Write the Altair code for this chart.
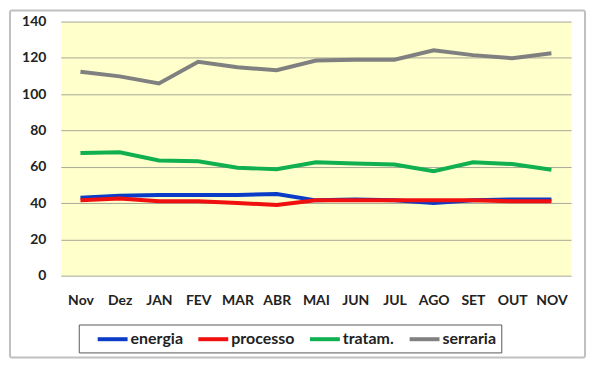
import altair as alt
import pandas as pd

months = ["Nov", "Dez", "JAN", "FEV", "MAR", "ABR", "MAI", "JUN", "JUL", "AGO", "SET", "OUT", "NOV"]
series = ["energia", "processo", "tratam.", "serraria"]
colors = ["#0A3CC8", "#F01010", "#10B050", "#808080"]

energia = [43, 44, 44.5, 44.5, 44.5, 45, 41.5, 42, 41.5, 40, 41.5, 42, 42]
processo = [41.5, 42.5, 41, 41, 40, 39, 41.5, 41.5, 41.5, 41.5, 41.5, 41, 41]
tratam = [67.6, 68, 63.5, 63, 59.5, 58.6, 62.5, 61.8, 61.3, 57.5, 62.5, 61.5, 58.4]
serraria = [112.3, 109.8, 105.9, 117.8, 114.8, 113.2, 118.5, 119, 119, 124.2, 121.5, 119.8, 122.5]

values = {"energia": energia, "processo": processo, "tratam.": tratam, "serraria": serraria}
rows = []
for s in series:
    for m, v in zip(months, values[s]):
        rows.append({"mes": m, "serie": s, "valor": v})
df = pd.DataFrame(rows)

FONT = "Lato"

frame = alt.Chart(pd.DataFrame({"a": [0]})).mark_rect(
    fillOpacity=0, stroke="#C0C0C0", strokeWidth=2, cornerRadius=2
).encode(
    x=alt.value(-51), x2=alt.value(526), y=alt.value(-11), y2=alt.value(337)
)

lines = alt.Chart(df).mark_line(strokeWidth=4).encode(
    x=alt.X("mes:N", sort=months, title=None,
            scale=alt.Scale(type="point", padding=0.5),
            axis=alt.Axis(labelAngle=0, ticks=False, domain=False, grid=False,
                          labelFont=FONT, labelFontSize=14, labelFontWeight="bold",
                          labelColor="#222222", labelPadding=18)),
    y=alt.Y("valor:Q", title=None,
            scale=alt.Scale(domain=[0, 140], nice=False, zero=True),
            axis=alt.Axis(values=[0, 20, 40, 60, 80, 100, 120, 140], ticks=False, domain=False,
                          gridColor="#A8A898", gridWidth=1, gridOpacity=1,
                          labelFont=FONT, labelFontSize=14, labelFontWeight="bold",
                          labelColor="#222222", labelPadding=15)),
    color=alt.Color("serie:N", sort=series,
                    scale=alt.Scale(domain=series, range=colors),
                    legend=alt.Legend(title=None, orient="none", legendX=18, legendY=304,
                                      direction="horizontal", fillColor="white",
                                      strokeColor="#595959", padding=5,
                                      symbolType="M-2,0H2", symbolStrokeWidth=4, symbolSize=225,
                                      symbolOffset=19.5,
                                      labelFont=FONT, labelFontSize=16, labelFontWeight="bold",
                                      labelColor="#222222", labelOffset=8.5, columnPadding=1)),
    order=alt.value(0),
)

chart = alt.layer(frame, lines).properties(
    width=512, height=255,
    padding={"left": 53, "top": 13, "right": 16, "bottom": 84},
    autosize="none",
    background="white",
).configure_view(fill="#FFFFCC", stroke="transparent")

chart.save("out.html", embed_options={"renderer": "svg", "actions": False})
